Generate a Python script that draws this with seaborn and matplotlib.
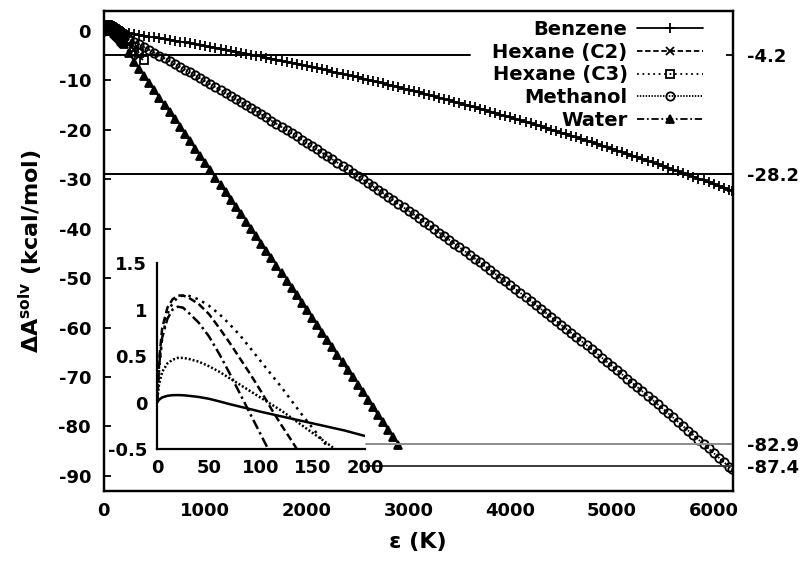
import matplotlib
matplotlib.use("Agg")
import matplotlib.pyplot as plt
import seaborn as sns

sns.set_theme(style="white")
plt.rcParams["font.family"] = ["DejaVu Sans"]
plt.rcParams["font.weight"] = "bold"
plt.rcParams["axes.labelweight"] = "bold"
plt.rcParams["axes.unicode_minus"] = False
plt.rcParams["text.color"] = "black"
plt.rcParams["axes.labelcolor"] = "black"
plt.rcParams["xtick.color"] = "black"
plt.rcParams["ytick.color"] = "black"
plt.rcParams["mathtext.fontset"] = "custom"
plt.rcParams["mathtext.rm"] = "DejaVu Sans:bold"
plt.rcParams["mathtext.it"] = "DejaVu Sans:bold:italic"
plt.rcParams["mathtext.bf"] = "DejaVu Sans:bold"

# ---- fine sampling near the origin (shown again in the inset) ----
eps_fine = [0, 2, 5, 10, 15, 20, 25, 30, 40, 50, 60, 70, 80, 90, 100,
            110, 120, 130, 140, 150, 160, 170, 180, 190, 200]
benzene_fine = [0.0, 0.03, 0.055, 0.072, 0.079, 0.08, 0.078, 0.073, 0.06, 0.04, 0.012, -0.018,
                -0.045, -0.072, -0.10, -0.125, -0.15, -0.175, -0.20, -0.225, -0.25, -0.275,
                -0.30, -0.33, -0.36]
hexc2_fine = [0.0, 0.45, 0.8, 1.02, 1.11, 1.15, 1.15, 1.13, 1.06, 0.95, 0.80, 0.64, 0.47,
              0.30, 0.12, -0.07, -0.25, -0.42, -0.60, -0.78, -0.96, -1.15, -1.34, -1.53, -1.72]
hexc3_fine = [0.0, 0.35, 0.7, 0.95, 1.07, 1.13, 1.15, 1.15, 1.11, 1.04, 0.95, 0.84, 0.72,
              0.58, 0.44, 0.30, 0.16, 0.01, -0.14, -0.28, -0.42, -0.56, -0.70, -0.85, -1.00]
methanol_fine = [0.0, 0.2, 0.33, 0.42, 0.46, 0.48, 0.48, 0.47, 0.44, 0.39, 0.33, 0.26, 0.19,
                 0.12, 0.05, -0.02, -0.09, -0.17, -0.25, -0.33, -0.41, -0.49, -0.57, -0.66, -0.75]
water_fine = [0.0, 0.4, 0.7, 0.9, 1.0, 1.03, 1.02, 0.97, 0.86, 0.71, 0.52, 0.31, 0.09,
              -0.13, -0.35, -0.57, -0.80, -1.03, -1.27, -1.51, -1.75, -2.0, -2.25, -2.5, -2.76]

# ---- 50 K sampling beyond the fine window ----
eps_long = list(range(250, 6200, 50)) + [6180]
benzene = [-0.55, -0.70, -0.86, -1.02, -1.18, -1.34, -1.51, -1.67, -1.84, -2.01,
           -2.18, -2.36, -2.53, -2.71, -2.89, -3.08, -3.26, -3.44, -3.63, -3.82,
           -4.01, -4.21, -4.40, -4.60, -4.80, -5.00, -5.20, -5.41, -5.62, -5.83,
           -6.04, -6.25, -6.46, -6.68, -6.90, -7.12, -7.34, -7.57, -7.79, -8.02,
           -8.25, -8.48, -8.72, -8.95, -9.19, -9.43, -9.67, -9.92, -10.16, -10.41,
           -10.66, -10.91, -11.16, -11.42, -11.68, -11.94, -12.20, -12.46, -12.72, -12.99,
           -13.26, -13.53, -13.80, -14.08, -14.35, -14.63, -14.91, -15.19, -15.48, -15.76,
           -16.05, -16.34, -16.63, -16.93, -17.22, -17.52, -17.82, -18.12, -18.42, -18.73,
           -19.04, -19.35, -19.66, -19.97, -20.28, -20.60, -20.92, -21.24, -21.56, -21.89,
           -22.21, -22.54, -22.87, -23.21, -23.54, -23.88, -24.21, -24.55, -24.89, -25.24,
           -25.58, -25.93, -26.28, -26.63, -26.99, -27.34, -27.70, -28.06, -28.42, -28.78,
           -29.15, -29.51, -29.88, -30.25, -30.63, -31.00, -31.38, -31.76, -32.13, -32.36]
methanol = [-1.68, -2.22, -2.77, -3.32, -3.88, -4.44, -5.00, -5.56, -6.13, -6.70,
            -7.27, -7.85, -8.43, -9.02, -9.60, -10.19, -10.79, -11.38, -11.98, -12.58,
            -13.19, -13.80, -14.41, -15.03, -15.65, -16.27, -16.89, -17.52, -18.15, -18.79,
            -19.43, -20.07, -20.71, -21.36, -22.01, -22.67, -23.32, -23.98, -24.65, -25.31,
            -25.99, -26.66, -27.33, -28.01, -28.70, -29.38, -30.07, -30.77, -31.46, -32.16,
            -32.86, -33.57, -34.28, -34.99, -35.70, -36.42, -37.14, -37.87, -38.60, -39.33,
            -40.06, -40.80, -41.54, -42.28, -43.03, -43.78, -44.53, -45.29, -46.05, -46.81,
            -47.58, -48.35, -49.12, -49.90, -50.68, -51.46, -52.24, -53.03, -53.82, -54.62,
            -55.42, -56.22, -57.02, -57.83, -58.64, -59.46, -60.27, -61.09, -61.92, -62.75,
            -63.58, -64.41, -65.25, -66.09, -66.93, -67.78, -68.62, -69.48, -70.33, -71.19,
            -72.05, -72.92, -73.79, -74.66, -75.54, -76.41, -77.30, -78.18, -79.07, -79.96,
            -80.85, -81.75, -82.65, -83.56, -84.46, -85.37, -86.29, -87.20, -88.12, -88.68]
eps_water = list(range(250, 2950, 50))
water = [-4.40, -6.22, -7.68, -9.14, -10.60, -12.06, -13.53, -14.99, -16.46, -17.93,
         -19.39, -20.86, -22.33, -23.81, -25.28, -26.76, -28.23, -29.71, -31.19, -32.67,
         -34.15, -35.63, -37.11, -38.60, -40.09, -41.57, -43.06, -44.55, -46.04, -47.54,
         -49.03, -50.53, -52.02, -53.52, -55.02, -56.52, -58.02, -59.52, -61.03, -62.53,
         -64.04, -65.55, -67.06, -68.57, -70.08, -71.59, -73.11, -74.62, -76.14, -77.66,
         -79.18, -80.70, -82.22, -83.74]
eps_hexc2 = [250, 300, 350]
hexc2 = [-2.7, -3.9, -5.2]
eps_hexc3 = [250, 300, 350, 400]
hexc3 = [-2.0, -3.2, -4.5, -5.9]

# reference levels, read against the right-hand axis
ref_levels = [-4.2, -28.2, -82.9, -87.4]
ref_start = [0, 0, 2580, 2580]
ref_stop = [3600, 6190, 6190, 6190]
ref_colors = ["black", "black", "#8c8c8c", "#3a3a3a"]

series = [
    ("Benzene", benzene_fine, eps_long, benzene, "-", "+", True, 7.5),
    ("Hexane (C2)", hexc2_fine, eps_hexc2, hexc2, (0, (3, 1.5)), "x", True, 5.5),
    ("Hexane (C3)", hexc3_fine, eps_hexc3, hexc3, (0, (1, 2)), "s", False, 5.5),
    ("Methanol", methanol_fine, eps_long, methanol, (0, (0.8, 0.8)), "o", False, 6),
    ("Water", water_fine, eps_water, water, (0, (4, 1.5, 1, 1.5)), "^", True, 6),
]

fs_tick = 13
fs_legend = 14
fs_label = 16
fig = plt.figure(figsize=(8.01, 5.61), dpi=100)
ax = fig.add_axes([0.1293, 0.1253, 0.7858, 0.8551])
ax2 = ax.twinx()

for name, fine, eps_c, coarse, ls, mk, filled, ms in series:
    sns.lineplot(x=eps_fine + eps_c, y=fine + coarse, ax=ax, color="black",
                 linestyle=ls, lw=1.3, marker=mk, markersize=ms, markeredgewidth=1.3,
                 markerfacecolor=("black" if filled else "none"), markeredgecolor="black",
                 label=name, sort=False, estimator=None)

ax.set_xlim(0, 6190)
ax.set_ylim(-93, 4)
ax2.set_ylim(-92.3, 4.7)
for lvl, x0, x1, c in zip(ref_levels, ref_start, ref_stop, ref_colors):
    ax2.plot([x0, x1], [lvl, lvl], color=c, lw=1.4)

ax.set_xticks([0, 1000, 2000, 3000, 4000, 5000, 6000])
ax.set_yticks(list(range(0, -91, -10)))
ax2.set_yticks(ref_levels)
ax2.set_yticklabels([f"{v:.1f}" for v in ref_levels])
ax.tick_params(axis="y", direction="in", length=5, width=1.3, labelsize=fs_tick, right=False, pad=9)
ax.tick_params(axis="x", direction="in", length=5, width=1.3, labelsize=fs_tick, top=False, pad=8)
ax2.tick_params(direction="in", length=5, width=1.3, labelsize=fs_tick, left=False, pad=10)
for a in (ax, ax2):
    for s in a.spines.values():
        s.set_linewidth(1.6)
        s.set_color("black")
ax.set_xlabel("ε (K)", fontsize=fs_label, labelpad=9)
ax.set_ylabel(r"$\Delta$A$^{\mathrm{solv}}$ (kcal/mol)", fontsize=fs_label, labelpad=10)

ax.legend(loc="upper right", bbox_to_anchor=(0.953, 0.982), frameon=False, fontsize=fs_legend,
          markerfirst=False, handlelength=3.4, labelspacing=0.2, borderaxespad=0.0,
          borderpad=0.0, handletextpad=0.5)

# inset around the origin
axi = fig.add_axes([0.196, 0.1996, 0.2597, 0.3316])
axi.patch.set_alpha(0)
for name, fine, eps_c, coarse, ls, mk, filled, ms in series:
    sns.lineplot(x=eps_fine, y=fine, ax=axi, color="black", linestyle=ls, lw=1.8,
                 sort=False, estimator=None, legend=False)
axi.set_xlim(0, 200)
axi.set_ylim(-0.5, 1.5)
axi.set_xticks([0, 50, 100, 150, 200])
axi.set_yticks([-0.5, 0, 0.5, 1, 1.5])
axi.set_yticklabels(["-0.5", "0", "0.5", "1", "1.5"])
axi.set_xlabel("")
axi.set_ylabel("")
axi.spines["top"].set_visible(False)
axi.spines["right"].set_visible(False)
for s in ("left", "bottom"):
    axi.spines[s].set_linewidth(1.6)
    axi.spines[s].set_color("black")
axi.tick_params(direction="in", length=5, width=1.3, labelsize=fs_tick, pad=7)

fig.savefig("out.png", dpi=100)
